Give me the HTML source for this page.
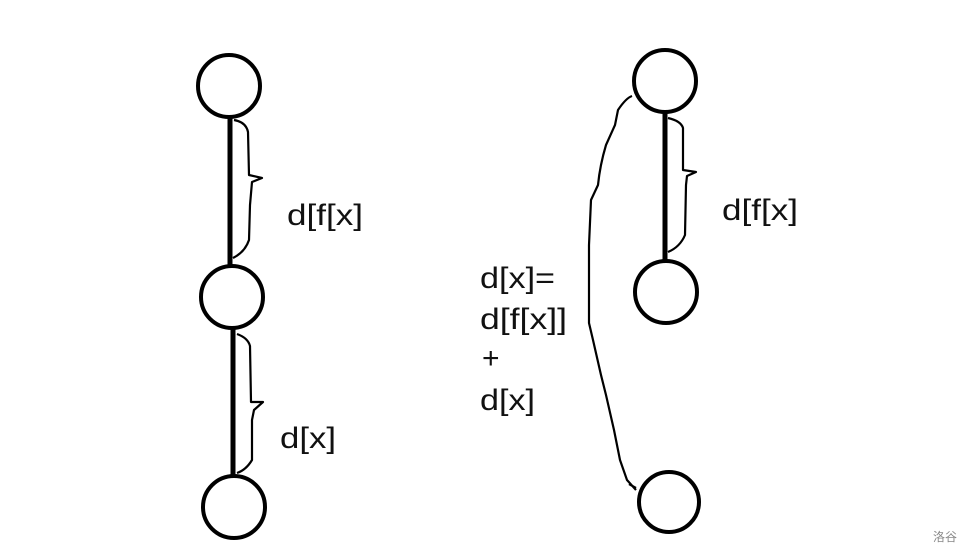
<!DOCTYPE html>
<html><head><meta charset="utf-8"><style>
html,body{margin:0;padding:0;background:#fff;}
svg{display:block}
text{font-family:"Liberation Sans","Noto Sans CJK SC",sans-serif;fill:#111;}
</style></head><body>
<svg width="977" height="557" viewBox="0 0 977 557" xmlns="http://www.w3.org/2000/svg">
<g fill="none" stroke="#000" stroke-width="4">
<circle cx="229" cy="86" r="31"/>
<circle cx="232" cy="297" r="31"/>
<circle cx="234" cy="507" r="31"/>
<circle cx="665" cy="81" r="31"/>
<circle cx="666" cy="292" r="31"/>
<circle cx="669" cy="502" r="30"/>
</g>
<g stroke="#000" stroke-width="5">
<line x1="230" y1="117" x2="230" y2="266"/>
<line x1="233" y1="328" x2="233" y2="476"/>
<line x1="665" y1="112" x2="665" y2="261"/>
</g>
<g fill="none" stroke="#000" stroke-width="2.2" stroke-linejoin="round">
<path d="M234 120 Q246 122 248 132 L249 175 L262 178 L252 182 L250 205 L249 240 Q245 252 233 258"/>
<path d="M237 334 Q248 338 250 346 L251 402 L263 402 L254 410 L252 420 L252 460 Q246 470 237 473"/>
<path d="M668 118 Q681 121 683 128 L683 170 L696 172 L687 176 L686 185 L685 235 Q680 247 668 252"/>
<path d="M632 96 Q626 98 618 110 L615 125 L606 145 Q600 165 598 185 L591 200 L589 245 L589 323 L593 340 L601 375 L606 395 L614 430 L620 460 L627 480 L636 490 M629 484 L636 488"/>
</g>
<g font-size="30" lengthAdjust="spacingAndGlyphs">
<text x="287" y="225" textLength="76" lengthAdjust="spacingAndGlyphs">d[f[x]</text>
<text x="280" y="448" textLength="56" lengthAdjust="spacingAndGlyphs">d[x]</text>
<text x="722" y="220" textLength="76" lengthAdjust="spacingAndGlyphs">d[f[x]</text>
<text x="480" y="288" textLength="75" lengthAdjust="spacingAndGlyphs">d[x]=</text>
<text x="480" y="329" textLength="87" lengthAdjust="spacingAndGlyphs">d[f[x]]</text>
<text x="482" y="368">+</text>
<text x="480" y="410" textLength="55" lengthAdjust="spacingAndGlyphs">d[x]</text>
</g>
<text x="933" y="541" font-size="12" style="fill:#888">洛谷</text>
</svg>
</body></html>
